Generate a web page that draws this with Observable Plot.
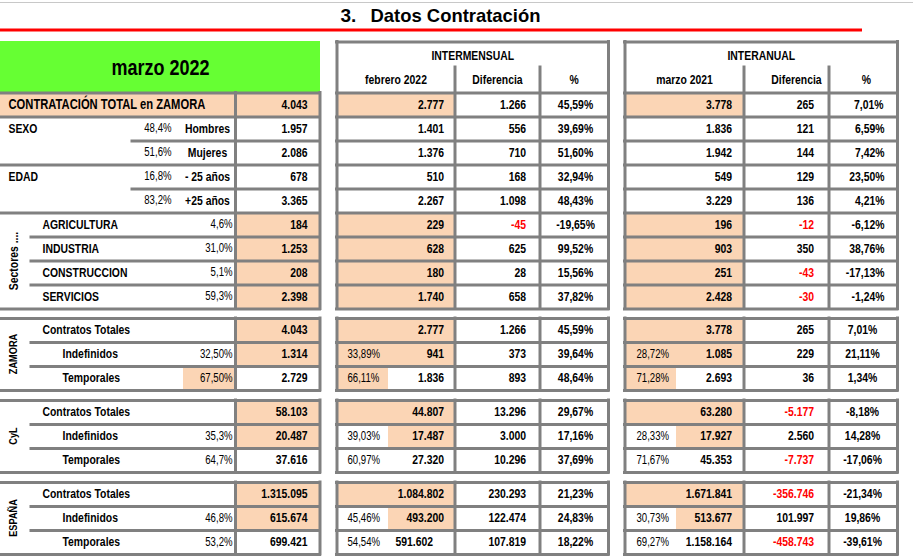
<!DOCTYPE html>
<html>
<head>
<meta charset="utf-8">
<script src="https://cdn.jsdelivr.net/npm/d3@7"></script>
<script src="https://cdn.jsdelivr.net/npm/@observablehq/plot@0.6"></script>
<style>
  html, body { margin: 0; padding: 0; background: #fff; }
  #chart svg { display: block; }
</style>
</head>
<body>
<div id="chart"></div>
<script>
// ---------------- DATA ----------------
const titleNum = "3.";
const titleText = "Datos Contratación";
const monthTitle = "marzo 2022";
const blockTitles = ["INTERMENSUAL", "INTERANUAL"];
const subHeadersM = ["febrero 2022", "Diferencia", "%"];
const subHeadersA = ["marzo 2021", "Diferencia", "%"];

// Total
const totalLabel = "CONTRATACIÓN TOTAL en ZAMORA";
const totalRow = {mar22: 4043, feb22: 2777, difM: 1266, pctM: "45,59%", mar21: 3778, difA: 265, pctA: "7,01%"};

// Sexo / Edad
const groupLabels = ["SEXO", "", "EDAD", ""];
const subLabels = ["Hombres", "Mujeres", "- 25 años", "+25 años"];
const subShare = ["48,4%", "51,6%", "16,8%", "83,2%"];
const subMar22 = [1957, 2086, 678, 3365];
const subFeb22 = [1401, 1376, 510, 2267];
const subDifM = [556, 710, 168, 1098];
const subPctM = ["39,69%", "51,60%", "32,94%", "48,43%"];
const subMar21 = [1836, 1942, 549, 3229];
const subDifA = [121, 144, 129, 136];
const subPctA = ["6,59%", "7,42%", "23,50%", "4,21%"];

// Sectores
const sectorTitle = "Sectores ....";
const sectors = ["AGRICULTURA", "INDUSTRIA", "CONSTRUCCION", "SERVICIOS"];
const sectorShare = ["4,6%", "31,0%", "5,1%", "59,3%"];
const sectorMar22 = [184, 1253, 208, 2398];
const sectorFeb22 = [229, 628, 180, 1740];
const sectorDifM = [-45, 625, 28, 658];
const sectorPctM = ["-19,65%", "99,52%", "15,56%", "37,82%"];
const sectorMar21 = [196, 903, 251, 2428];
const sectorDifA = [-12, 350, -43, -30];
const sectorPctA = ["-6,12%", "38,76%", "-17,13%", "-1,24%"];

// Contratos por territorio
const regions = ["ZAMORA", "CyL", "ESPAÑA"];
const contractTypes = ["Contratos Totales", "Indefinidos", "Temporales"];
const regShare   = [["", "32,50%", "67,50%"], ["", "35,3%", "64,7%"], ["", "46,8%", "53,2%"]];
const regMar22   = [[4043, 1314, 2729], [58103, 20487, 37616], [1315095, 615674, 699421]];
const regFebShare= [["", "33,89%", "66,11%"], ["", "39,03%", "60,97%"], ["", "45,46%", "54,54%"]];
const regFeb22   = [[2777, 941, 1836], [44807, 17487, 27320], [1084802, 493200, 591602]];
const regDifM    = [[1266, 373, 893], [13296, 3000, 10296], [230293, 122474, 107819]];
const regPctM    = [["45,59%", "39,64%", "48,64%"], ["29,67%", "17,16%", "37,69%"], ["21,23%", "24,83%", "18,22%"]];
const regMarShare= [["", "28,72%", "71,28%"], ["", "28,33%", "71,67%"], ["", "30,73%", "69,27%"]];
const regMar21   = [[3778, 1085, 2693], [63280, 17927, 45353], [1671841, 513677, 1158164]];
const regDifA    = [[265, 229, 36], [-5177, 2560, -7737], [-356746, 101997, -458743]];
const regPctA    = [["7,01%", "21,11%", "1,34%"], ["-8,18%", "14,28%", "-17,06%"], ["-21,34%", "19,86%", "-39,61%"]];

// ---------------- LAYOUT & STYLE ----------------
const W = 913, H = 557;
const FONT = "'Liberation Sans', Arial, sans-serif";
const GRAY = "#808080", PEACH = "#FBD5B5", GREEN = "#66FF33", RED = "#FF0000";
const NARROW = 0.8; // emulate Arial Narrow
const L = {label: 8, sub: 42, sub2: 62, split: 31, sexSplit: 132, sexShare: 171, sexSub: 207,
           share: 232, div: 235, val: 307, end: 319.5, shareFillX: 183, greenEnd: 320};
const M = [336.5, 454.5, 539.5, 608];
const R = [624.5, 743.5, 828.5, 897];
const headTop = 41.5, headMid = 67, topY0 = 92.5, rowH = 24;
const blockTop = [318, 400, 482];
const titleWidth = 170;
const fmt = d3.formatLocale({decimal: ",", thousands: ".", grouping: [3], currency: ["", ""], minus: "-"}).format(",d");

const fills = [], hlines = [], vlines = [], texts = [];
const T = (x, y, text, o = {}) => texts.push({x, y, text: String(text), anchor: o.anchor || "end",
  weight: o.weight || "bold", size: o.size || (o.weight === "normal" ? 12 : 13), color: o.color || "black", rotate: o.rotate || 0});
const numColor = v => v < 0 ? RED : "black";
const yb = k => topY0 + rowH * k;
const cy = k => topY0 + rowH * k + rowH / 2 - 0.5;

// green header
fills.push({x1: 0, x2: L.greenEnd, y1: headTop - 0.5, y2: topY0, fill: GREEN});
T(L.greenEnd / 2, 67, monthTitle, {anchor: "middle", size: 22.5});

// block headers + grid
[[M, blockTitles[0], subHeadersM, [0, 0, 0]], [R, blockTitles[1], subHeadersA, [0, 10, 3]]].forEach(([C, title, subs, off]) => {
  T((C[0] + C[3]) / 2, 55, title, {anchor: "middle"});
  subs.forEach((s, i) => T((C[i] + C[i + 1]) / 2 + off[i], 79.5, s, {anchor: "middle"}));
  hlines.push({y: headTop, x1: C[0], x2: C[3]});
  vlines.push({x: C[0], y1: headTop, y2: yb(9)}, {x: C[3], y1: headTop, y2: yb(9)});
  vlines.push({x: C[1], y1: headMid, y2: yb(9)}, {x: C[2], y1: headMid, y2: yb(9)});
  for (let k = 0; k <= 9; k++) hlines.push({y: yb(k), x1: C[0], x2: C[3]});
  regions.forEach((r, b) => {
    for (let j = 0; j <= 3; j++) hlines.push({y: blockTop[b] + rowH * j, x1: C[0], x2: C[3]});
    C.forEach(x => vlines.push({x, y1: blockTop[b], y2: blockTop[b] + 3 * rowH}));
  });
});

// left block lines (top section)
for (let k = 0; k <= 9; k++) {
  const x1 = (k === 2 || k === 4) ? L.sexSplit : (k >= 6 && k <= 8) ? L.split : 0;
  hlines.push({y: yb(k), x1, x2: L.end});
}
vlines.push({x: L.div, y1: yb(0), y2: yb(9)}, {x: L.end, y1: yb(0), y2: yb(9)});

// totals row
fills.push({x1: 0, x2: L.end, y1: yb(0), y2: yb(1), fill: PEACH});
fills.push({x1: M[0], x2: M[1], y1: yb(0), y2: yb(1), fill: PEACH});
fills.push({x1: R[0], x2: R[1], y1: yb(0), y2: yb(1), fill: PEACH});
T(L.label, cy(0), totalLabel, {anchor: "start", size: 14});
T(L.val, cy(0), fmt(totalRow.mar22));
T(M[1] - 11, cy(0), fmt(totalRow.feb22));
T(M[2] - 14, cy(0), fmt(totalRow.difM), {color: numColor(totalRow.difM)});
T(575, cy(0), totalRow.pctM, {anchor: "middle"});
T(R[1] - 12, cy(0), fmt(totalRow.mar21));
T(R[2] - 15, cy(0), fmt(totalRow.difA), {color: numColor(totalRow.difA)});
T(R[3] - 14, cy(0), totalRow.pctA);

// sexo / edad
subLabels.forEach((s, i) => {
  const k = i + 1;
  if (groupLabels[i]) T(L.label, cy(k), groupLabels[i], {anchor: "start"});
  T(L.sexShare, cy(k), subShare[i], {weight: "normal"});
  T(L.sexSub, cy(k), s, {anchor: "middle"});
  T(L.val, cy(k), fmt(subMar22[i]));
  T(M[1] - 11, cy(k), fmt(subFeb22[i]));
  T(M[2] - 14, cy(k), fmt(subDifM[i]), {color: numColor(subDifM[i])});
  T(575, cy(k), subPctM[i], {anchor: "middle"});
  T(R[1] - 12, cy(k), fmt(subMar21[i]));
  T(R[2] - 15, cy(k), fmt(subDifA[i]), {color: numColor(subDifA[i])});
  T(R[3] - 13, cy(k), subPctA[i]);
});

// sectores
T(13, (yb(5) + yb(9)) / 2, sectorTitle, {anchor: "middle", rotate: -90});
sectors.forEach((s, i) => {
  const k = i + 5;
  fills.push({x1: L.div, x2: L.end, y1: yb(k), y2: yb(k + 1), fill: PEACH});
  fills.push({x1: M[0], x2: M[1], y1: yb(k), y2: yb(k + 1), fill: PEACH});
  fills.push({x1: R[0], x2: R[1], y1: yb(k), y2: yb(k + 1), fill: PEACH});
  T(L.sub, cy(k), s, {anchor: "start"});
  T(L.share, cy(k), sectorShare[i], {weight: "normal"});
  T(L.val, cy(k), fmt(sectorMar22[i]));
  T(M[1] - 11, cy(k), fmt(sectorFeb22[i]));
  T(M[2] - 14, cy(k), fmt(sectorDifM[i]), {color: numColor(sectorDifM[i])});
  T(575, cy(k), sectorPctM[i], {anchor: "middle"});
  T(R[1] - 12, cy(k), fmt(sectorMar21[i]));
  T(R[2] - 15, cy(k), fmt(sectorDifA[i]), {color: numColor(sectorDifA[i])});
  T(R[3] - 13, cy(k), sectorPctA[i]);
});

// territorial blocks
regions.forEach((reg, b) => {
  const top = blockTop[b];
  const ry = j => top + rowH * j;
  const rc = j => top + rowH * j + rowH / 2 - 0.5;
  for (let j = 0; j <= 3; j++) hlines.push({y: ry(j), x1: (j === 0 || j === 3) ? 0 : L.split, x2: L.end});
  vlines.push({x: L.div, y1: top, y2: ry(3)}, {x: L.end, y1: top, y2: ry(3)});
  T(13, rc(1), reg, {anchor: "middle", rotate: -90, size: 11.5});
  fills.push({x1: L.div, x2: L.end, y1: ry(0), y2: ry(2), fill: PEACH});
  if (b === 0) fills.push({x1: L.shareFillX, x2: L.div, y1: ry(2), y2: ry(3), fill: PEACH});
  [M, R].forEach(C => {
    fills.push({x1: C[0], x2: C[1], y1: ry(0), y2: ry(1), fill: PEACH});
    if (b === 0) {
      fills.push({x1: C[0], x2: C[1], y1: ry(1), y2: ry(2), fill: PEACH});
      fills.push({x1: C[0], x2: C[0] + 51.5, y1: ry(2), y2: ry(3), fill: PEACH});
    } else {
      fills.push({x1: C[0] + 51.5, x2: C[1], y1: ry(1), y2: ry(2), fill: PEACH});
    }
  });
  contractTypes.forEach((ct, j) => {
    T(j === 0 ? L.sub : L.sub2, rc(j), ct, {anchor: "start"});
    if (regShare[b][j]) T(L.share, rc(j), regShare[b][j], {weight: "normal"});
    T(L.val, rc(j), fmt(regMar22[b][j]));
    if (regFebShare[b][j]) T(M[0] + 10.5, rc(j), regFebShare[b][j], {anchor: "start", weight: "normal"});
    T((b === 2 && j === 2) ? M[1] - 22 : M[1] - 11, rc(j), fmt(regFeb22[b][j]));
    T(M[2] - 14, rc(j), fmt(regDifM[b][j]), {color: numColor(regDifM[b][j])});
    T(575, rc(j), regPctM[b][j], {anchor: "middle"});
    if (regMarShare[b][j]) T(R[0] + 11.5, rc(j), regMarShare[b][j], {anchor: "start", weight: "normal"});
    T(R[1] - 12, rc(j), fmt(regMar21[b][j]));
    T(R[2] - 15, rc(j), fmt(regDifA[b][j]), {color: numColor(regDifA[b][j])});
    T(862, rc(j), regPctA[b][j], {anchor: "middle"});
  });
});

// ---------------- MARKS ----------------
const textMarks = [];
for (const anchor of ["start", "middle", "end"]) {
  for (const weight of ["bold", "normal"]) {
    const sub = texts.filter(d => d.anchor === anchor && d.weight === weight);
    if (!sub.length) continue;
    textMarks.push(Plot.text(sub, {x: "x", y: "y", text: "text", fill: "color", fontSize: "size",
      rotate: "rotate", textAnchor: anchor, fontWeight: weight, fontFamily: FONT}));
  }
}

const chart = Plot.plot({
  width: W, height: H,
  margin: 0, marginTop: 0, marginRight: 0, marginBottom: 0, marginLeft: 0,
  x: {type: "identity", axis: null},
  y: {type: "identity", axis: null},
  color: {type: "identity"},
  style: {fontFamily: FONT, background: "white", overflow: "visible"},
  marks: [
    Plot.ruleY([2], {x1: 0, x2: W, stroke: "#c8c8c8", strokeWidth: 1}),
    Plot.text([titleNum], {x: 340, y: 15, text: d => d, textAnchor: "start", fontSize: 19, fontWeight: "bold", fontFamily: FONT}),
    Plot.text([titleText], {x: 370, y: 15, text: d => d, textAnchor: "start", fontSize: 19, fontWeight: "bold", fontFamily: FONT}),
    Plot.ruleY([29.5], {x1: 0, x2: 862, stroke: RED, strokeWidth: 3}),
    Plot.rect(fills, {x1: "x1", x2: "x2", y1: "y1", y2: "y2", fill: "fill"}),
    Plot.ruleY(hlines, {y: "y", x1: "x1", x2: "x2", stroke: GRAY, strokeWidth: 3, strokeLinecap: "square"}),
    Plot.ruleX(vlines, {x: "x", y1: "y1", y2: "y2", stroke: GRAY, strokeWidth: 3, strokeLinecap: "square"}),
    ...textMarks
  ]
});
document.getElementById("chart").appendChild(chart);

// Narrow-font emulation: condense glyphs horizontally with textLength
chart.querySelectorAll("text").forEach(el => {
  const txt = el.textContent;
  if (!txt || txt === titleNum) return;
  const natural = el.getComputedTextLength();
  const target = txt === titleText ? titleWidth : natural * NARROW;
  el.setAttribute("textLength", target.toFixed(2));
  el.setAttribute("lengthAdjust", "spacingAndGlyphs");
});
</script>
</body>
</html>
